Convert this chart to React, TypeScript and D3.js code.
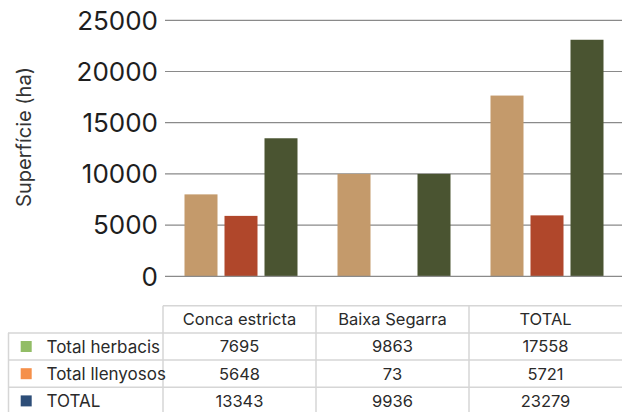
import { useEffect, useRef } from 'react';
import * as d3 from 'd3';

const categories = ['Conca estricta', 'Baixa Segarra', 'TOTAL'];
const seriesNames = ['Total herbacis', 'Total llenyosos', 'TOTAL'];

// bar heights as drawn in the picture
const herbacisBars = [8000, 10000, 17650];
const llenyososBars = [5900, 0, 5950];
const totalBars = [13480, 10000, 23100];

// values printed in the table
const herbacisTable = [7695, 9863, 17558];
const llenyososTable = [5648, 73, 5721];
const totalTable = [13343, 9936, 23279];

const yTicks = [0, 5000, 10000, 15000, 20000, 25000];

const barColors = ['#c49a6b', '#b0472b', '#4a5431'];
const legendColors = ['#92bd66', '#f5904a', '#2d4e78'];

export default function App() {
  const svgRef = useRef<SVGSVGElement>(null);

  useEffect(() => {
    if (!svgRef.current) return;
    const svg = d3.select(svgRef.current);
    svg.selectAll('*').remove();

    const font = 'Inter, "Noto Sans", sans-serif';
    const plotLeft = 163;
    const plotRight = 622;

    const x = d3.scaleBand().domain(categories).range([plotLeft, plotRight]).padding(0);
    const inner = d3
      .scaleBand()
      .domain(seriesNames)
      .range([-55, 58])
      .paddingInner(0.175)
      .paddingOuter(0);
    const y = d3.scaleLinear().domain([0, 25000]).range([276.3, 20.3]);

    // Grid lines
    svg
      .append('g')
      .selectAll('line')
      .data(yTicks.filter((t) => t > 0))
      .enter()
      .append('line')
      .attr('x1', 165)
      .attr('x2', plotRight)
      .attr('y1', (d) => y(d))
      .attr('y2', (d) => y(d))
      .attr('stroke', '#8a8a8a')
      .attr('stroke-width', 1.2);

    // Tick labels
    svg
      .append('g')
      .selectAll('text')
      .data(yTicks)
      .enter()
      .append('text')
      .attr('x', 158)
      .attr('y', (d) => y(d))
      .attr('dy', '0.36em')
      .attr('text-anchor', 'end')
      .attr('font-family', font)
      .attr('font-size', '26px')
      .attr('fill', '#1e1e1e')
      .text((d) => d);

    // Axis title
    svg
      .append('text')
      .attr('transform', 'translate(31,137) rotate(-90)')
      .attr('text-anchor', 'middle')
      .attr('font-family', font)
      .attr('font-size', '20px')
      .attr('fill', '#333')
      .text('Superfície (ha)');

    // Bars
    const barSeries = [herbacisBars, llenyososBars, totalBars];
    const rows = categories.flatMap((c, ci) =>
      seriesNames.map((s, si) => ({ c, s, si, v: barSeries[si][ci] }))
    );
    svg
      .append('g')
      .selectAll('rect')
      .data(rows.filter((d) => d.v > 0))
      .enter()
      .append('rect')
      .attr('x', (d) => (x(d.c) || 0) + x.bandwidth() / 2 + (inner(d.s) || 0))
      .attr('y', (d) => y(d.v))
      .attr('width', inner.bandwidth())
      .attr('height', (d) => y(0) - y(d.v))
      .attr('fill', (d) => barColors[d.si]);

    // Baseline
    svg
      .append('line')
      .attr('x1', 165)
      .attr('x2', plotRight)
      .attr('y1', y(0))
      .attr('y2', y(0))
      .attr('stroke', '#8a8a8a')
      .attr('stroke-width', 1.2);

    // Data table
    const headerTop = 305.7;
    const rowH = 27.2;
    const gridColor = '#d6d6d6';
    const table = svg.append('g');
    const tableSeries = [herbacisTable, llenyososTable, totalTable];

    table
      .append('line')
      .attr('x1', plotLeft)
      .attr('x2', plotRight)
      .attr('y1', headerTop)
      .attr('y2', headerTop)
      .attr('stroke', gridColor)
      .attr('stroke-width', 1.5);
    [1, 2, 3, 4].forEach((i) => {
      table
        .append('line')
        .attr('x1', 8)
        .attr('x2', plotRight)
        .attr('y1', headerTop + rowH * i)
        .attr('y2', headerTop + rowH * i)
        .attr('stroke', gridColor)
        .attr('stroke-width', 1.5);
    });
    table
      .append('line')
      .attr('x1', 8.5)
      .attr('x2', 8.5)
      .attr('y1', headerTop + rowH)
      .attr('y2', 412)
      .attr('stroke', gridColor)
      .attr('stroke-width', 1.5);
    categories.forEach((c) => {
      const xx = x(c) || 0;
      table
        .append('line')
        .attr('x1', xx)
        .attr('x2', xx)
        .attr('y1', headerTop)
        .attr('y2', 412)
        .attr('stroke', gridColor)
        .attr('stroke-width', 1.5);
    });

    table
      .selectAll('.hdr')
      .data(categories)
      .enter()
      .append('text')
      .attr('x', (d) => (x(d) || 0) + x.bandwidth() / 2)
      .attr('y', headerTop + rowH / 2)
      .attr('dy', '0.36em')
      .attr('text-anchor', 'middle')
      .attr('font-family', font)
      .attr('font-size', '16.5px')
      .attr('fill', '#2a2a2a')
      .text((d) => d);

    seriesNames.forEach((s, si) => {
      const cy = headerTop + rowH * (si + 1) + rowH / 2;
      table
        .append('rect')
        .attr('x', 20.7)
        .attr('y', cy - 5.5)
        .attr('width', 11)
        .attr('height', 11)
        .attr('fill', legendColors[si]);
      table
        .append('text')
        .attr('x', 46.5)
        .attr('y', cy)
        .attr('dy', '0.36em')
        .attr('font-family', font)
        .attr('font-size', '17px')
        .attr('fill', '#2a2a2a')
        .text(s);
      table
        .selectAll(`.v${si}`)
        .data(categories)
        .enter()
        .append('text')
        .attr('x', (d) => (x(d) || 0) + x.bandwidth() / 2)
        .attr('y', cy)
        .attr('dy', '0.36em')
        .attr('text-anchor', 'middle')
        .attr('font-family', font)
        .attr('font-size', '16.5px')
        .attr('fill', '#2a2a2a')
        .text((_, ci) => tableSeries[si][ci]);
    });
  }, []);

  return (
    <div style={{ position: 'fixed', left: 0, top: 0, width: 622, height: 412, background: '#fff' }}>
      <svg ref={svgRef} width={622} height={412} style={{ display: 'block' }} />
    </div>
  );
}
